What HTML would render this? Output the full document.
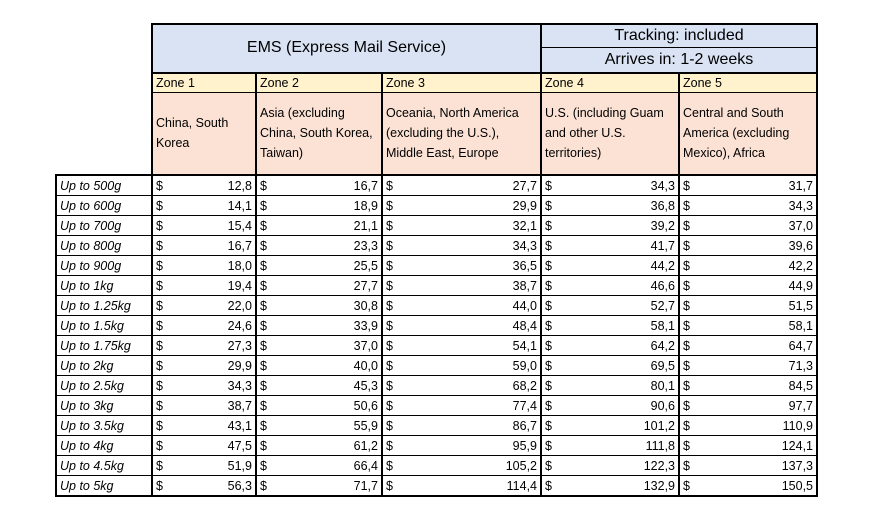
<!DOCTYPE html>
<html><head><meta charset="utf-8"><style>
body{margin:0;background:#fff;width:876px;height:521px;overflow:hidden;font-family:"Liberation Sans","DejaVu Sans",sans-serif;}
table{position:absolute;left:55px;top:23px;border-collapse:collapse;table-layout:fixed;}
td{padding:0 3px;border:1px solid #000;font-size:12.5px;color:#000;overflow:hidden;white-space:nowrap;}
td.n{border:none;}
.h{background:#dae3f3;text-align:center;font-size:16px;border:2px solid #000;}
.z{background:#fff2cc;height:18px;font-size:12.5px;border-left:2px solid #000;border-right:2px solid #000;}
.d{background:#fbe2d5;white-space:normal;line-height:20px;font-size:12.5px;border-left:2px solid #000;border-right:2px solid #000;border-bottom:2px solid #000;}
.l{font-style:italic;border-left:2px solid #000;border-right:2px solid #000;}
.v{border-left:2px solid #000;border-right:2px solid #000;}
.v span{float:right;}
tr.r td{height:19px;}
tr.last td{border-bottom:2px solid #000;}
</style></head><body>
<table>
<colgroup><col style="width:96px"><col style="width:104px"><col style="width:126px"><col style="width:159px"><col style="width:138px"><col style="width:138px"></colgroup>
<tr><td class="n" style="height:23px"></td><td class="h" colspan="3" rowspan="2">EMS (Express Mail Service)</td><td class="h" colspan="2" style="height:22px;border-bottom:1px solid #000">Tracking: included</td></tr>
<tr><td class="n" style="height:25px"></td><td class="h" colspan="2" style="border-top:1px solid #000">Arrives in: 1-2 weeks</td></tr>
<tr><td class="n"></td><td class="z">Zone 1</td><td class="z">Zone 2</td><td class="z">Zone 3</td><td class="z">Zone 4</td><td class="z">Zone 5</td></tr>
<tr><td class="n" style="height:82px"></td><td class="d">China, South Korea</td><td class="d">Asia (excluding China, South Korea, Taiwan)</td><td class="d">Oceania, North America (excluding the U.S.), Middle East, Europe</td><td class="d">U.S. (including Guam and other U.S. territories)</td><td class="d">Central and South America (excluding Mexico), Africa</td></tr>
<tr class="r"><td class="l" style="border-top:2px solid #000">Up to 500g</td><td class="v">$<span>12,8</span></td><td class="v">$<span>16,7</span></td><td class="v">$<span>27,7</span></td><td class="v">$<span>34,3</span></td><td class="v">$<span>31,7</span></td></tr>
<tr class="r"><td class="l">Up to 600g</td><td class="v">$<span>14,1</span></td><td class="v">$<span>18,9</span></td><td class="v">$<span>29,9</span></td><td class="v">$<span>36,8</span></td><td class="v">$<span>34,3</span></td></tr>
<tr class="r"><td class="l">Up to 700g</td><td class="v">$<span>15,4</span></td><td class="v">$<span>21,1</span></td><td class="v">$<span>32,1</span></td><td class="v">$<span>39,2</span></td><td class="v">$<span>37,0</span></td></tr>
<tr class="r"><td class="l">Up to 800g</td><td class="v">$<span>16,7</span></td><td class="v">$<span>23,3</span></td><td class="v">$<span>34,3</span></td><td class="v">$<span>41,7</span></td><td class="v">$<span>39,6</span></td></tr>
<tr class="r"><td class="l">Up to 900g</td><td class="v">$<span>18,0</span></td><td class="v">$<span>25,5</span></td><td class="v">$<span>36,5</span></td><td class="v">$<span>44,2</span></td><td class="v">$<span>42,2</span></td></tr>
<tr class="r"><td class="l">Up to 1kg</td><td class="v">$<span>19,4</span></td><td class="v">$<span>27,7</span></td><td class="v">$<span>38,7</span></td><td class="v">$<span>46,6</span></td><td class="v">$<span>44,9</span></td></tr>
<tr class="r"><td class="l">Up to 1.25kg</td><td class="v">$<span>22,0</span></td><td class="v">$<span>30,8</span></td><td class="v">$<span>44,0</span></td><td class="v">$<span>52,7</span></td><td class="v">$<span>51,5</span></td></tr>
<tr class="r"><td class="l">Up to 1.5kg</td><td class="v">$<span>24,6</span></td><td class="v">$<span>33,9</span></td><td class="v">$<span>48,4</span></td><td class="v">$<span>58,1</span></td><td class="v">$<span>58,1</span></td></tr>
<tr class="r"><td class="l">Up to 1.75kg</td><td class="v">$<span>27,3</span></td><td class="v">$<span>37,0</span></td><td class="v">$<span>54,1</span></td><td class="v">$<span>64,2</span></td><td class="v">$<span>64,7</span></td></tr>
<tr class="r"><td class="l">Up to 2kg</td><td class="v">$<span>29,9</span></td><td class="v">$<span>40,0</span></td><td class="v">$<span>59,0</span></td><td class="v">$<span>69,5</span></td><td class="v">$<span>71,3</span></td></tr>
<tr class="r"><td class="l">Up to 2.5kg</td><td class="v">$<span>34,3</span></td><td class="v">$<span>45,3</span></td><td class="v">$<span>68,2</span></td><td class="v">$<span>80,1</span></td><td class="v">$<span>84,5</span></td></tr>
<tr class="r"><td class="l">Up to 3kg</td><td class="v">$<span>38,7</span></td><td class="v">$<span>50,6</span></td><td class="v">$<span>77,4</span></td><td class="v">$<span>90,6</span></td><td class="v">$<span>97,7</span></td></tr>
<tr class="r"><td class="l">Up to 3.5kg</td><td class="v">$<span>43,1</span></td><td class="v">$<span>55,9</span></td><td class="v">$<span>86,7</span></td><td class="v">$<span>101,2</span></td><td class="v">$<span>110,9</span></td></tr>
<tr class="r"><td class="l">Up to 4kg</td><td class="v">$<span>47,5</span></td><td class="v">$<span>61,2</span></td><td class="v">$<span>95,9</span></td><td class="v">$<span>111,8</span></td><td class="v">$<span>124,1</span></td></tr>
<tr class="r"><td class="l">Up to 4.5kg</td><td class="v">$<span>51,9</span></td><td class="v">$<span>66,4</span></td><td class="v">$<span>105,2</span></td><td class="v">$<span>122,3</span></td><td class="v">$<span>137,3</span></td></tr>
<tr class="r last"><td class="l">Up to 5kg</td><td class="v">$<span>56,3</span></td><td class="v">$<span>71,7</span></td><td class="v">$<span>114,4</span></td><td class="v">$<span>132,9</span></td><td class="v">$<span>150,5</span></td></tr>
</table>
</body></html>
